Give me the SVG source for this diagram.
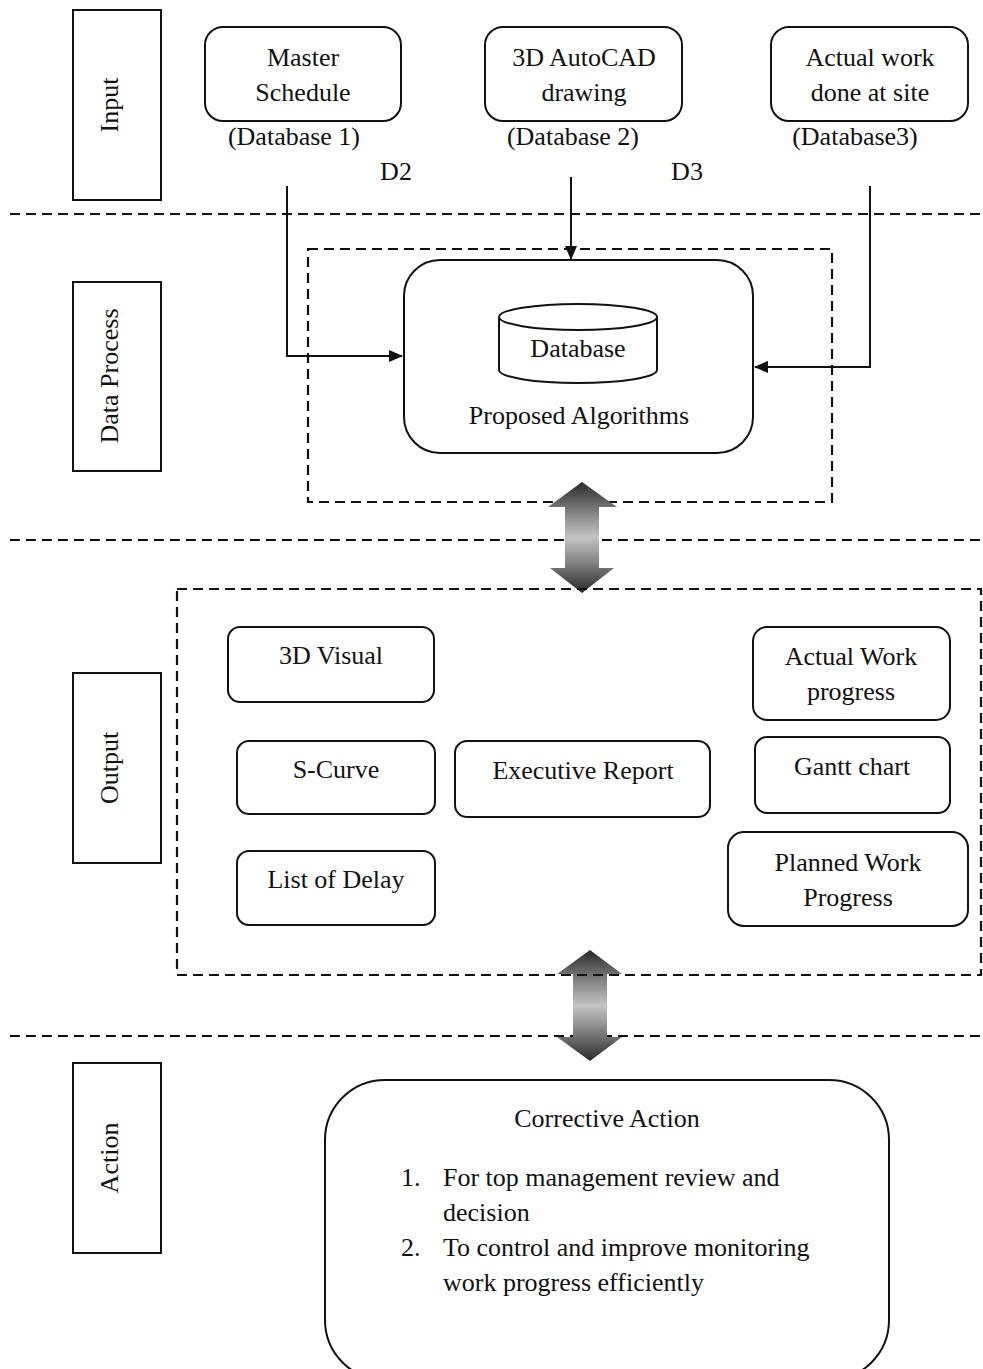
<svg xmlns="http://www.w3.org/2000/svg" width="983" height="1369" viewBox="0 0 983 1369">
<style>
text{font-family:"Liberation Serif","Times New Roman",serif;font-size:26px;fill:#111;}
.c{text-anchor:middle;}
.box{fill:#fff;stroke:#111;stroke-width:2;}
.lbl{fill:#fff;stroke:#111;stroke-width:2;}
.dash{fill:none;stroke:#111;stroke-width:2.2;stroke-dasharray:10 6;}
.ln{fill:none;stroke:#111;stroke-width:2;}
.dbl{stroke:none;}
</style>
<defs>
<marker id="ah" markerWidth="14" markerHeight="14" refX="13" refY="7" orient="auto" markerUnits="userSpaceOnUse">
<path d="M0,1 L14,7 L0,13 Z" fill="#111"/>
</marker>
<linearGradient id="gv" x1="0" y1="0" x2="0" y2="1">
<stop offset="0" stop-color="#2a2a2a"/>
<stop offset="0.3" stop-color="#8a8a8a"/>
<stop offset="0.5" stop-color="#c4c4c4"/>
<stop offset="0.7" stop-color="#8a8a8a"/>
<stop offset="1" stop-color="#2a2a2a"/>
</linearGradient>
</defs>

<!-- separators -->
<g id="separators">
<line class="dash" x1="10" y1="214" x2="983" y2="214"/>
<line class="dash" x1="10" y1="540" x2="983" y2="540"/>
<line class="dash" x1="10" y1="1036" x2="983" y2="1036"/>
</g>

<!-- lane labels -->
<g id="lane-input"><rect class="lbl" x="73" y="10" width="88" height="190"/><text class="c" transform="translate(118,105) rotate(-90)">Input</text></g>
<g id="lane-process"><rect class="lbl" x="73" y="282" width="88" height="189"/><text class="c" transform="translate(118,376) rotate(-90)">Data Process</text></g>
<g id="lane-output"><rect class="lbl" x="73" y="673" width="88" height="190"/><text class="c" transform="translate(118,768) rotate(-90)">Output</text></g>
<g id="lane-action"><rect class="lbl" x="73" y="1063" width="88" height="190"/><text class="c" transform="translate(118,1158) rotate(-90)">Action</text></g>

<!-- input nodes -->
<g id="master-schedule"><rect class="box" x="205" y="27" width="196" height="94" rx="18"/><text class="c" x="303" y="66">Master</text><text class="c" x="303" y="101">Schedule</text><text class="c" x="294" y="145">(Database 1)</text></g>
<g id="autocad"><rect class="box" x="485" y="27" width="197" height="94" rx="18"/><text class="c" x="584" y="66">3D AutoCAD</text><text class="c" x="584" y="101">drawing</text><text class="c" x="573" y="145">(Database 2)</text></g>
<g id="actual-work-site"><rect class="box" x="771" y="27" width="197" height="94" rx="18"/><text class="c" x="870" y="66">Actual work</text><text class="c" x="870" y="101">done at site</text><text class="c" x="855" y="145">(Database3)</text></g>
<g id="d-labels"><text class="c" x="396" y="180">D2</text><text class="c" x="687" y="180">D3</text></g>

<!-- data process -->
<g id="process-frame"><rect class="dash" x="308" y="249" width="524" height="253"/></g>
<g id="proposed-algorithms">
<rect class="box" x="404" y="260" width="349" height="193" rx="36"/>
<path class="box" d="M499,317 L499,370 A79,13 0 0 0 657,370 L657,317"/>
<ellipse class="box" cx="578" cy="317" rx="79" ry="13"/>
<text class="c" x="578" y="357">Database</text>
<text class="c" x="579" y="424">Proposed Algorithms</text>
</g>

<!-- connectors -->
<g id="connectors">
<path class="ln" d="M287,186 L287,356 L402,356" marker-end="url(#ah)"/>
<path class="ln" d="M571,177 L571,259" marker-end="url(#ah)"/>
<path class="ln" d="M870,186 L870,367 L755,367" marker-end="url(#ah)"/>
<path class="dbl" fill="url(#gv)" d="M582,482 L617,507 L599,507 L599,568 L614,568 L582,593 L550,568 L565,568 L565,507 L548,507 Z"/>
<path class="dbl" fill="url(#gv)" d="M590,950 L622,974 L607,974 L607,1037 L622,1037 L590,1061 L557,1037 L573,1037 L573,974 L557,974 Z"/>
</g>

<!-- output -->
<g id="output-frame"><rect class="dash" x="177" y="589" width="804" height="386"/></g>
<g id="visual-3d"><rect class="box" x="228" y="627" width="206" height="75" rx="12"/><text class="c" x="331" y="664">3D Visual</text></g>
<g id="s-curve"><rect class="box" x="237" y="741" width="198" height="73" rx="12"/><text class="c" x="336" y="778">S-Curve</text></g>
<g id="list-of-delay"><rect class="box" x="237" y="851" width="198" height="74" rx="12"/><text class="c" x="336" y="888">List of Delay</text></g>
<g id="executive-report"><rect class="box" x="455" y="741" width="255" height="76" rx="12"/><text class="c" x="583" y="779">Executive Report</text></g>
<g id="actual-work-progress"><rect class="box" x="753" y="627" width="197" height="93" rx="14"/><text class="c" x="851" y="665">Actual Work</text><text class="c" x="851" y="700">progress</text></g>
<g id="gantt-chart"><rect class="box" x="755" y="737" width="195" height="76" rx="12"/><text class="c" x="852" y="775">Gantt chart</text></g>
<g id="planned-work-progress"><rect class="box" x="728" y="832" width="240" height="94" rx="16"/><text class="c" x="848" y="871">Planned Work</text><text class="c" x="848" y="906">Progress</text></g>

<!-- action -->
<g id="corrective-action">
<rect class="box" x="325" y="1080" width="564" height="300" rx="60"/>
<text class="c" x="607" y="1127">Corrective Action</text>
<text x="401" y="1186">1.</text><text x="443" y="1186">For top management review and</text>
<text x="443" y="1221">decision</text>
<text x="401" y="1256">2.</text><text x="443" y="1256">To control and improve monitoring</text>
<text x="443" y="1291">work progress efficiently</text>
</g>
</svg>
